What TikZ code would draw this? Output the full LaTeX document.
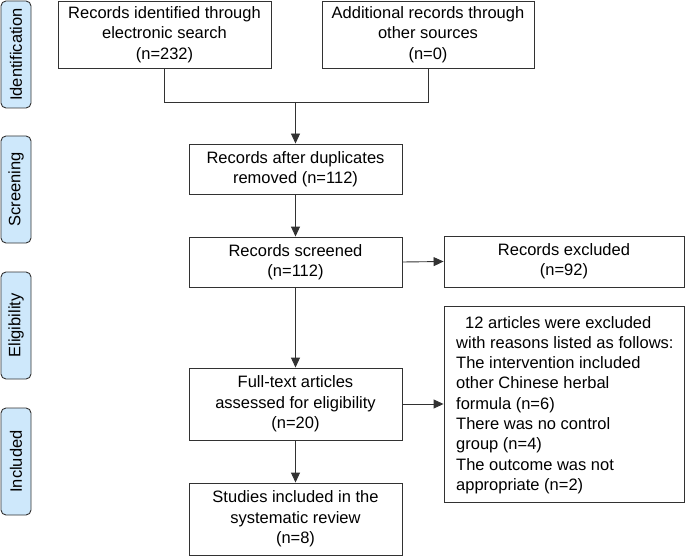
\documentclass[tikz,border=0pt]{standalone}
\usepackage{fontspec}
\setmainfont{Liberation Sans}
\usetikzlibrary{arrows.meta}
\definecolor{barfill}{RGB}{206,232,251}
\definecolor{linegray}{RGB}{50,50,50}
\begin{document}
\begin{tikzpicture}[x=1pt,y=-1pt,
  every node/.style={font=\fontsize{16.5}{20.3}\selectfont, text=black},
  box/.style={draw=linegray, line width=0.9pt, rectangle, align=center, inner sep=0pt},
  stage/.style={draw=linegray, line width=0.9pt, fill=barfill, rounded corners=5pt, rotate=90,
    minimum width=107pt, minimum height=30pt, inner sep=0pt},
  conn/.style={draw=linegray, line width=0.9pt},
  arr/.style={conn, -{Triangle[length=10pt,width=9pt]}}]
\useasboundingbox (0,0) rectangle (685,556);
% stage bars
\node[stage] (s1) at (16,54.5) {Identification};
\node[stage] (s2) at (16,189.5) {Screening};
\node[stage] (s3) at (16,325.5) {Eligibility};
\node[stage] (s4) at (16,461.5) {Included};
% boxes
\node[box, minimum width=213pt, minimum height=67pt] (b1) at (164.5,34.5)
  {Records identified through\\electronic search\\(n=232)};
\node[box, minimum width=212pt, minimum height=67pt] (b2) at (428,34.5)
  {Additional records through\\other sources\\(n=0)};
\node[box, minimum width=213pt, minimum height=50pt] (b3) at (295.5,169)
  {Records after duplicates\\removed (n=112)};
\node[box, minimum width=213pt, minimum height=50pt] (b4) at (295.5,262)
  {Records screened\\(n=112)};
\node[box, minimum width=240pt, minimum height=51pt] (b5) at (564,261.5)
  {Records excluded\\(n=92)};
\node[box, minimum width=213pt, minimum height=72pt] (b7) at (295.5,404)
  {Full-text articles\\assessed for eligibility\\(n=20)};
\node[box, minimum width=213pt, minimum height=72pt] (b8) at (295.5,519)
  {Studies included in the\\systematic review\\(n=8)};
\node[box, minimum width=240pt, minimum height=196pt] (b6) at (564,404) {};
\node[anchor=west, align=left, inner sep=0pt] (b6t) at (456,405)
  {\hspace*{9pt}12 articles were excluded\\with reasons listed as follows:\\The intervention included\\other Chinese herbal\\formula (n=6)\\There was no control\\group (n=4)\\The outcome was not\\appropriate (n=2)};
% connectors
\coordinate (m) at (295.5,102);
\draw[conn] (b1.south) -- (b1.south |- m) -- (b2.south |- m) -- (b2.south);
\draw[arr] (m) -- (b3.north);
\draw[arr] (b3.south) -- (b4.north);
\draw[arr] (b4.east) -- (b5.west);
\draw[arr] (b4.south) -- (b7.north);
\draw[arr] (b7.east) -- (b7.east -| b6.west);
\draw[arr] (b7.south) -- (b8.north);
\end{tikzpicture}
\end{document}
